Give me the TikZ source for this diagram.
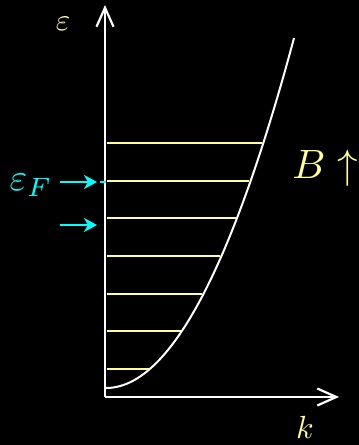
\documentclass[tikz,border=0pt]{standalone}
\usepackage{graphicx}
\usetikzlibrary{arrows.meta}
\definecolor{paleY}{RGB}{255,255,150}
\definecolor{cyanA}{RGB}{0,255,255}
\begin{document}
\begin{tikzpicture}[x=1pt,y=-1pt,
  axis/.style={draw=white,line width=2.2pt,-{Straight Barb[length=19pt,width=17pt,line width=2.2pt]}},
  level/.style={draw=paleY,line width=2pt},
  curve/.style={draw=white,line width=2pt},
  fermi/.style={draw=cyanA,line width=2.5pt,-{Stealth[length=13pt,width=14pt,inset=4pt]}},
  lbl/.style={text=paleY,inner sep=0pt}]
\fill[black] (0,0) rectangle (359,445);
\useasboundingbox (0,0) rectangle (359,445);
\coordinate (O) at (105,397);
\coordinate (Ytop) at (105,5);
\coordinate (Xend) at (339,397);
\draw[axis] (O) -- (Ytop);
\draw[axis] (O) -- (Xend);
% energy levels ending on the curve
\foreach \y in {143,181,218,256,294,331,369}{
  \pgfmathsetmacro{\xe}{106+9.95*sqrt(388-\y)}
  \coordinate (L\y) at (107,\y);
  \coordinate (R\y) at (\xe,\y);
  \draw[level] (L\y) -- (R\y);
}
\draw[curve] plot[domain=106:294,samples=80,smooth] (\x,{388-(0.0995*(\x-106))^2});
% fermi arrows
\coordinate (A1s) at (60,182);
\coordinate (A1e) at (97,182);
\coordinate (A2s) at (60,225);
\coordinate (A2e) at (97,225);
\draw[fermi] (A1s) -- (A1e);
\draw[fermi] (A2s) -- (A2e);
\coordinate (D1) at (100,182);
\coordinate (D2) at (106,182);
\draw[draw=cyanA,line width=2.5pt] (D1) -- (D2);
% labels
\node[lbl] (eps) at (63,24) {\scalebox{3.1}{$\varepsilon$}};
\node[text=cyanA,inner sep=0pt] (epsF) at (31,185) {\scalebox{3.8}{$\varepsilon_F$}};
\node[lbl] (B) at (325,168) {\scalebox{4.1}{$B\uparrow$}};
\node[lbl] (k) at (305,427) {\scalebox{3.2}{$k$}};
\end{tikzpicture}
\end{document}
